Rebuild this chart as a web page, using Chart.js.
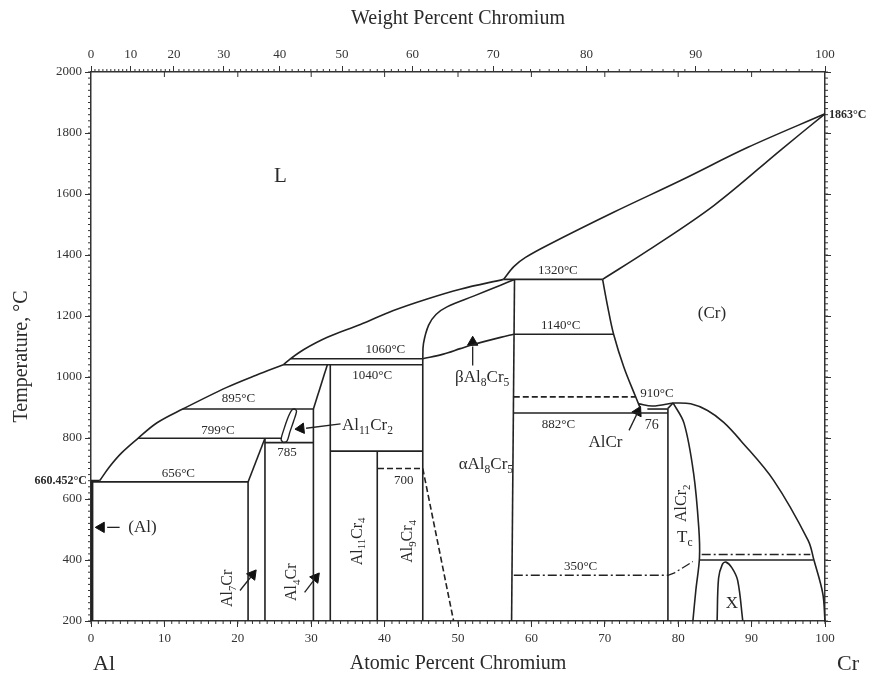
<!DOCTYPE html>
<html lang="en">
<head>
    <meta charset="UTF-8">
    <title>Al-Cr 相图</title>
    <script src="https://cdn.jsdelivr.net/npm/chart.js@4.4.1/dist/chart.umd.min.js"></script>
    <style>
        html, body { margin: 0; padding: 0; background: #fff; }
    </style>
</head>
<body>
    <canvas id="phaseChart" width="880" height="682"></canvas>

    <script>
        // 上方重量百分比刻度（以原子百分比位置表示）
        const wtLabels = [0, 10, 20, 30, 40, 50, 60, 70, 80, 90, 100];
        const wtAtPos = [0, 5.4, 11.3, 18.1, 25.7, 34.2, 43.8, 54.8, 67.5, 82.4, 100];

        // 相界线 [at% Cr, °C]
        const liqLow = [[1.2, 660.5], [2.5, 705], [4.2, 752], [6.4, 799], [9, 850], [12.5, 895], [18.5, 966], [22.5, 1006], [26.2, 1040]];
        const liqMid = [[26.2, 1040], [27.2, 1060], [29, 1090], [32.2, 1130], [36.7, 1172], [41.2, 1218], [45.8, 1256], [50.3, 1288], [56.2, 1320]];
        const liqHigh = [[56.2, 1320], [57.6, 1362], [59.2, 1392], [62.2, 1432], [71.2, 1540], [80.4, 1645], [89.5, 1753], [100, 1863]];
        const solCr = [[69.7, 1320], [75.9, 1415], [84.9, 1563], [94.0, 1745], [100, 1863]];
        const betaBound = [[45.2, 1060], [45.3, 1110], [46.0, 1170], [47.0, 1205], [48.5, 1230], [52.2, 1266], [55.8, 1301], [57.7, 1320]];
        const betaAlpha = [[45.2, 1060], [48, 1075], [50.3, 1093], [52.0, 1106], [55.8, 1130], [57.6, 1140]];
        const alcrRight = [[69.7, 1320], [70.4, 1230], [71.2, 1140], [72.6, 1032], [74.2, 935], [74.8, 900]];
        const sliver = [[74.6, 912], [76.5, 905], [79.3, 915]];
        const sliverLow = [[75.8, 895], [78.6, 895]];
        const alcr2Right = [[79.3, 915], [80.8, 848], [82.1, 684], [82.8, 507], [82.9, 408], [82.4, 300], [82.0, 200]];
        const alcr2Top = [[78.6, 897], [79.3, 915]];
        const crSolvus = [[79.3, 915], [81.7, 912], [84.0, 890], [86.2, 851], [88.5, 792], [93.0, 661], [97.7, 464], [98.5, 399], [99.7, 290], [100, 200]];
        const xDome = [[85.3, 200], [85.5, 340], [86.0, 385], [86.5, 393], [87.3, 375], [88.1, 333], [88.8, 200]];
        const lens = [[26.2, 785], [25.9, 795], [26.3, 830], [26.8, 865], [27.3, 890], [27.7, 895], [28.0, 888], [27.6, 855], [27.1, 820], [26.7, 790], [26.2, 785]];

        // 水平线 / 竖线
        const straight = {
            alFlat: [[0, 660.5], [1.2, 660.5]],
            alSolvus: [[0.15, 660.5], [0.15, 200]],
            l656: [[0, 656], [21.4, 656]],
            l799: [[6.4, 799], [26.0, 799]],
            l785: [[23.7, 785], [30.3, 785]],
            l895: [[12.5, 895], [30.3, 895]],
            l1040: [[26.2, 1040], [45.2, 1040]],
            l1060: [[27.2, 1060], [45.2, 1060]],
            l757: [[32.6, 757], [45.2, 757]],
            l1320: [[56.2, 1320], [69.7, 1320]],
            l1140: [[57.6, 1140], [71.2, 1140]],
            l882: [[57.5, 882], [78.6, 882]],
            l400: [[82.9, 400], [98.4, 400]],
            al7CrL: [[21.4, 656], [21.4, 200]],
            al7CrR: [[23.7, 799], [23.7, 200]],
            al7CrS: [[21.4, 656], [23.7, 799]],
            al4CrL: [[30.3, 895], [30.3, 200]],
            al4CrR: [[32.6, 1040], [32.6, 200]],
            al4CrS: [[30.3, 895], [32.2, 1040]],
            al11Cr4: [[39.0, 757], [39.0, 200]],
            al8Cr5L: [[45.2, 1060], [45.2, 200]],
            al8Cr5R: [[57.7, 1320], [57.3, 200]],
            alcr2L: [[78.6, 897], [78.6, 200]]
        };
        const dashed = [
            [[57.6, 935], [74.2, 935]],
            [[39.1, 700], [45.2, 700]],
            [[45.2, 700], [49.4, 200]]
        ];
        const dashDot = [
            [[57.6, 350], [78.6, 350], [79.5, 358], [82.0, 395]],
            [[83.2, 418], [98.0, 418]]
        ];

        // 箭头
        const arrowShafts = [
            [[2.2, 507], [3.9, 507]],
            [[20.3, 300], [21.8, 345]],
            [[29.1, 294], [30.4, 335]],
            [[29.3, 832], [34.0, 846]],
            [[52.0, 1100], [52.0, 1038]],
            [[73.3, 825], [74.4, 880]]
        ];
        const arrowTips = [[1.4, 507], [22.0, 352], [30.6, 342], [28.6, 831], [52.0, 1114], [74.5, 886]];
        const arrowRot = [-90, 38, 38, -96, 0, 27];

        // 标注文字 [文本, at%, °C, 字号, 旋转, 对齐]
        const notes = [
            ['L', 25.8, 1658, 21, 0],
            ['(Cr)', 84.6, 1209, 17, 0],
            ['656°C', 11.9, 684, 13, 0],
            ['799°C', 17.3, 825, 13, 0],
            ['895°C', 20.1, 930, 13, 0],
            ['785', 26.7, 753, 13, 0],
            ['1060°C', 40.1, 1090, 13, 0],
            ['1040°C', 38.3, 1005, 13, 0],
            ['Al{11}Cr{2}', 34.2, 842, 17, 0, 'left'],
            ['βAl{8}Cr{5}', 53.3, 999, 17, 0],
            ['αAl{8}Cr{5}', 53.8, 714, 17, 0],
            ['700', 42.6, 661, 13, 0],
            ['1320°C', 63.6, 1350, 13, 0],
            ['1140°C', 64.0, 1170, 13, 0],
            ['882°C', 63.7, 845, 13, 0],
            ['AlCr', 70.1, 786, 17, 0],
            ['76', 76.4, 842, 14, 0],
            ['910°C', 77.1, 947, 13, 0],
            ['AlCr{2}', 80.5, 586, 16, -90],
            ['T{c}', 80.9, 475, 17, 0],
            ['350°C', 66.7, 379, 13, 0],
            ['X', 87.3, 258, 17, 0],
            ['(Al)', 7.0, 507, 17, 0],
            ['Al{7}Cr', 18.7, 307, 16, -90],
            ['Al{4}Cr', 27.4, 327, 16, -90],
            ['Al{11}Cr{4}', 36.3, 461, 16, -90],
            ['Al{9}Cr{4}', 43.2, 461, 16, -90]
        ];

        const FONT = "'Liberation Serif', 'DejaVu Serif', serif";
        const INK = '#222';
        const pts = arr => arr.map(p => ({ x: p[0], y: p[1] }));

        const datasets = [];
        function addLine(arr, opts) {
            datasets.push(Object.assign({
                data: pts(arr),
                showLine: true,
                borderColor: INK,
                borderWidth: 1.6,
                pointRadius: 0,
                tension: 0,
                fill: false,
                clip: false
            }, opts || {}));
        }

        [liqLow, liqMid, liqHigh, solCr, betaBound, betaAlpha, alcrRight, alcr2Right, crSolvus, xDome, sliver]
            .forEach(a => addLine(a, { tension: 0.35 }));
        addLine(lens, { tension: 0.3, borderWidth: 1.4 });
        addLine(alcr2Top);
        addLine(sliverLow);
        Object.keys(straight).forEach(k => addLine(straight[k], k === 'alSolvus' ? { borderWidth: 2.6 } : {}));
        dashed.forEach(a => addLine(a, { borderDash: [6, 3] }));
        dashDot.forEach(a => addLine(a, { borderDash: [9, 3, 2, 3], borderWidth: 1.3 }));
        arrowShafts.forEach(a => addLine(a, { borderWidth: 1.3 }));
        datasets.push({
            data: pts(arrowTips),
            showLine: false,
            pointStyle: 'triangle',
            pointRadius: 6,
            pointRotation: arrowRot,
            backgroundColor: '#111',
            borderColor: '#111',
            borderWidth: 1,
            clip: false
        });

        // 带下标的文字
        function drawRich(ctx, str, x, y, size, align) {
            const parts = str.split(/(\{[^}]*\})/).filter(s => s.length);
            const segs = parts.map(s => {
                const sub = s[0] === '{';
                const text = sub ? s.slice(1, -1) : s;
                const sz = sub ? size * 0.68 : size;
                ctx.font = `${sz}px ${FONT}`;
                return { text, sub, sz, w: ctx.measureText(text).width };
            });
            const total = segs.reduce((s, g) => s + g.w, 0);
            let cx = align === 'left' ? x : align === 'right' ? x - total : x - total / 2;
            ctx.textAlign = 'left';
            ctx.textBaseline = 'middle';
            segs.forEach(g => {
                ctx.font = `${g.sz}px ${FONT}`;
                ctx.fillText(g.text, cx, g.sub ? y + size * 0.32 : y);
                cx += g.w;
            });
        }

        const decor = {
            id: 'decor',
            afterDraw(chart) {
                const ctx = chart.ctx;
                const { left, right, top, bottom } = chart.chartArea;
                const xs = chart.scales.x, ys = chart.scales.y;
                ctx.save();
                ctx.strokeStyle = '#333';
                ctx.lineWidth = 1;
                ctx.beginPath();
                for (let v = 0; v <= 100; v++) {
                    const px = xs.getPixelForValue(v);
                    ctx.moveTo(px, bottom); ctx.lineTo(px, bottom + 3);
                }
                for (let v = 10; v < 100; v += 10) {
                    const px = xs.getPixelForValue(v);
                    ctx.moveTo(px, top); ctx.lineTo(px, top + 5);
                }
                for (let i = 0; i < wtAtPos.length - 1; i++) {
                    for (let k = 1; k < 10; k++) {
                        const a = wtAtPos[i] + (wtAtPos[i + 1] - wtAtPos[i]) * k / 10;
                        const px = xs.getPixelForValue(a);
                        ctx.moveTo(px, top); ctx.lineTo(px, top - 3);
                    }
                }
                for (let t = 200; t <= 2000; t += 20) {
                    const py = ys.getPixelForValue(t);
                    ctx.moveTo(left, py); ctx.lineTo(left - 3, py);
                    ctx.moveTo(right, py); ctx.lineTo(right + 3, py);
                }
                ctx.stroke();

                // 标注
                ctx.fillStyle = '#2a2a2a';
                notes.forEach(n => {
                    const px = xs.getPixelForValue(n[1]);
                    const py = ys.getPixelForValue(n[2]);
                    if (n[4]) {
                        ctx.save();
                        ctx.translate(px, py);
                        ctx.rotate(n[4] * Math.PI / 180);
                        drawRich(ctx, n[0], 0, 0, n[3], n[5]);
                        ctx.restore();
                    } else {
                        drawRich(ctx, n[0], px, py, n[3], n[5]);
                    }
                });

                // 特殊温度
                ctx.font = `bold 12px ${FONT}`;
                ctx.textBaseline = 'middle';
                ctx.textAlign = 'right';
                ctx.fillText('660.452°C', left - 4, ys.getPixelForValue(660.452));
                ctx.textAlign = 'left';
                ctx.fillText('1863°C', right + 4, ys.getPixelForValue(1863) + 1);

                // 坐标轴标题
                const mid = (left + right) / 2;
                ctx.textAlign = 'center';
                ctx.font = `20px ${FONT}`;
                ctx.fillText('Weight Percent Chromium', mid, 19);
                ctx.fillText('Atomic Percent Chromium', mid, bottom + 43);
                ctx.font = `22px ${FONT}`;
                ctx.fillText('Al', left + 13, bottom + 43);
                ctx.fillText('Cr', right + 23, bottom + 43);
                ctx.save();
                ctx.translate(22, (top + bottom) / 2 + 10);
                ctx.rotate(-Math.PI / 2);
                ctx.font = `20px ${FONT}`;
                ctx.fillText('Temperature, °C', 0, 0);
                ctx.restore();
                ctx.restore();
            }
        };

        const tickFont = { family: FONT, size: 13 };
        const axisGrid = { display: true, drawOnChartArea: false, drawTicks: true, tickLength: 6, color: '#333' };
        const axisBorder = { display: true, color: '#333', width: 1.5 };

        new Chart(document.getElementById('phaseChart'), {
            type: 'scatter',
            data: { datasets },
            options: {
                responsive: false,
                animation: false,
                events: [],
                layout: { padding: 0 },
                plugins: { legend: { display: false }, tooltip: { enabled: false } },
                scales: {
                    x: {
                        type: 'linear', position: 'bottom', min: 0, max: 100,
                        ticks: { stepSize: 10, callback: v => String(v), font: tickFont, color: '#333', padding: 4, maxRotation: 0 },
                        grid: axisGrid, border: axisBorder,
                        afterFit: s => { s.height = 61; }
                    },
                    xTop: {
                        type: 'linear', position: 'top', min: 0, max: 100,
                        afterBuildTicks: s => { s.ticks = wtAtPos.map(v => ({ value: v })); },
                        ticks: { callback: (v, i) => String(wtLabels[i]), autoSkip: false, font: tickFont, color: '#333', padding: 4, maxRotation: 0 },
                        grid: axisGrid, border: axisBorder,
                        afterFit: s => { s.height = 72; }
                    },
                    y: {
                        type: 'linear', position: 'left', min: 200, max: 2000,
                        ticks: { stepSize: 200, callback: v => String(v), font: tickFont, color: '#333', padding: 3 },
                        grid: axisGrid, border: axisBorder,
                        afterFit: s => { s.width = 91; }
                    },
                    y2: {
                        type: 'linear', position: 'right', min: 200, max: 2000,
                        ticks: { stepSize: 200, display: false },
                        grid: axisGrid, border: axisBorder,
                        afterFit: s => { s.width = 55; }
                    }
                }
            },
            plugins: [decor]
        });
    </script>
</body>
</html>
